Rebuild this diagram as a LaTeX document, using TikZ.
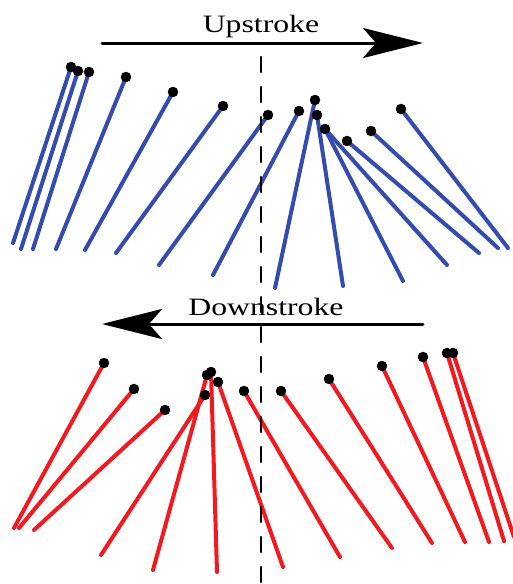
\documentclass[tikz,border=0pt]{standalone}
\usepackage{fontspec}
\setmainfont{Liberation Serif}
\usepackage{tkz-euclide}
\usetikzlibrary{arrows.meta,calc}
\definecolor{UpClr}{rgb}{0.2,0.3,0.68}
\definecolor{DownClr}{rgb}{0.95,0.1,0.12}

\begin{document}
\begin{tikzpicture}[x=1pt,y=-1pt,
  stroke label/.style={font=\fontsize{25}{30}\selectfont,xscale=1.27,inner sep=0pt,anchor=base}]
\useasboundingbox (0,0) rectangle (512,584);
\tkzSetUpLine[line width=4pt]
\tkzSetUpPoint[fill=black]

% upstroke
\tkzDefPoints{71/67/A1,78/71/A2,89/72/A3,126/77/A4,173/92/A5,223/106/A6,268/115/A7,299/111/A8}
\tkzDefPoints{315/100/A9,317/115/A10,325/129/A11,347/141/A13,371/131/A14,401/109/A15}
\tkzDefPoints{13/243/a1,21/249/a2,33/249/a3,56/249/a4,85/250/a5,116/253/a6,159/265/a7,213/275/a8}
\tkzDefPoints{275/288/a9,343/286/a10,403/281/a11,447/265/a12,479/253/a13,498/248/a14,508/248/a15}

% downstroke
\tkzDefPoints{104/363/B1,134/389/B2,165/410/B3,205/395/B4,207/375/B5,211/372/B6,218/382/B7}
\tkzDefPoints{244/391/B8,281/391/B9,329/379/B10,382/366/B11,423/357/B12,447/353/B13,453/353/B14}
\tkzDefPoints{14/528/b1,19/528/b2,34/530/b3,101/555/b4,153/570/b5,217/572/b6,283/567/b7}
\tkzDefPoints{340/557/b8,392/548/b9,432/543/b10,465/542/b11,489/542/b12,504/541/b13,514/537/b14}

\tkzDefPoints{102/43/P1,423/43/P2,423/324/Q1,102/324/Q2,261/57/V1,261/586/V2}

\tkzDrawSegments[color=UpClr](A1,a1 A2,a2 A3,a3 A4,a4 A5,a5 A6,a6 A7,a7 A8,a8)
\tkzDrawSegments[color=UpClr](A9,a9 A10,a10 A11,a11 A11,a12 A13,a13 A14,a14 A15,a15)
\tkzDrawSegments[color=DownClr](B1,b1 B2,b2 B3,b3 B4,b4 B5,b5 B6,b6 B7,b7)
\tkzDrawSegments[color=DownClr](B8,b8 B9,b9 B10,b10 B11,b11 B12,b12 B13,b13 B14,b14)

\tkzDrawPoints[size=10](A1,A2,A3,A4,A5,A6,A7,A8,A9,A10,A11,A13,A14,A15)
\tkzDrawPoints[size=10](B1,B2,B3,B4,B5,B6,B7,B8,B9,B10,B11,B12,B13,B14)

\tkzDrawSegment[line width=3pt,color=black,-{Stealth[length=60pt,width=30pt,inset=13pt]}](P1,P2)
\tkzDrawSegment[line width=3pt,color=black,-{Stealth[length=60pt,width=30pt,inset=13pt]}](Q1,Q2)

\node (up) [stroke label] at (261,32) {Upstroke};
\node (down) [stroke label] at (266,315) {Downstroke};

\tkzDrawSegment[line width=2.5pt,color=black,dash pattern=on 15pt off 15pt](V1,V2)

\end{tikzpicture}
\end{document}
